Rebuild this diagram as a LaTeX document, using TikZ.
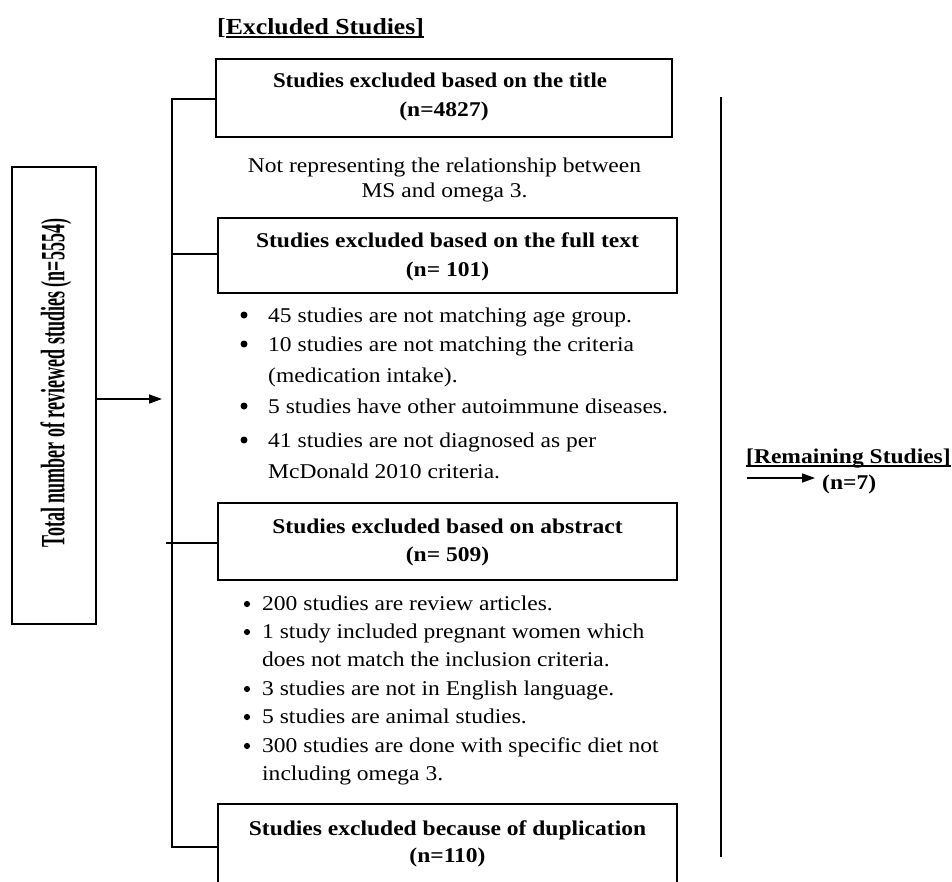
\documentclass[tikz,border=0pt]{standalone}
\usepackage{fontspec}
\setmainfont{Liberation Serif}[FakeStretch=1.12]
\newfontfamily\vfont{Liberation Serif}
\usetikzlibrary{arrows.meta}
\newcommand\myul[1]{\setbox0\hbox{#1}\rlap{\rule[-3.5pt]{\wd0}{1.8pt}}\box0}
\begin{document}
\begin{tikzpicture}[x=1pt,y=-1pt,
  box/.style={draw, line width=2.2pt, inner sep=0pt},
  conn/.style={line width=2.3pt},
  arr/.style={line width=1.4pt, -{Triangle[length=13pt,width=9pt]}},
  hd/.style={anchor=base, inner sep=0pt, font=\bfseries\fontsize{21}{25}\selectfont},
  bd/.style={anchor=base west, inner sep=0pt, font=\fontsize{21}{25}\selectfont},
  bdc/.style={anchor=base, inner sep=0pt, font=\fontsize{21}{25}\selectfont},
  bula/.style={circle, fill, inner sep=0pt, minimum size=7pt},
  bulb/.style={circle, fill, inner sep=0pt, minimum size=6.2pt}]
\clip (0,0) rectangle (952,881);
\fill[white] (0,0) rectangle (952,881);

% header
\node[anchor=base west, inner sep=0pt, font=\bfseries\fontsize{23}{27}\selectfont] (hex) at (217,34) {[\myul{Excluded Studies]}};

% total box
\node[box, minimum width=84pt, minimum height=457pt] (tot) at (54,395.5) {};
\node[rotate=90, inner sep=0pt, font=\vfont\bfseries\fontsize{34}{38}\selectfont] (tott) at (56,383) {\scalebox{0.53}[1]{Total number of reviewed studies (n=5554)}};

% boxes
\node[box, minimum width=456pt, minimum height=78pt] (b1) at (444,98) {};
\node[box, minimum width=459pt, minimum height=75pt] (b2) at (447.5,255.5) {};
\node[box, minimum width=459pt, minimum height=77pt] (b3) at (447.5,541.5) {};
\node[box, minimum width=459pt, minimum height=101pt] (b4) at (447.5,854.5) {};

% box 1 texts
\node[hd] (t1a) at (440,87) {\scalebox{0.97}[1]{Studies excluded based on the title}};
\node[hd] (t1b) at (444,116) {(n=4827)};
\node[bdc] (c1a) at (444.5,172) {Not representing the relationship between};
\node[bdc] (c1b) at (444.5,197) {MS and omega 3.};

% box 2 texts
\node[hd] (t2a) at (447.5,247) {Studies excluded based on the full text};
\node[hd] (t2b) at (447.5,276) {(n= 101)};
\node[bula] (p21) at (244,315) {};
\node[bd] (l21) at (268,322) {45 studies are not matching age group.};
\node[bula] (p22) at (244,344) {};
\node[bd] (l22) at (268,351) {10 studies are not matching the criteria};
\node[bd] (l23) at (268,382) {(medication intake).};
\node[bula] (p24) at (244,406) {};
\node[bd] (l24) at (268,413) {5 studies have other autoimmune diseases.};
\node[bula] (p25) at (244,440) {};
\node[bd] (l25) at (268,447) {41 studies are not diagnosed as per};
\node[bd] (l26) at (268,478) {McDonald 2010 criteria.};

% box 3 texts
\node[hd] (t3a) at (447.5,533) {Studies excluded based on abstract};
\node[hd] (t3b) at (447.5,561) {(n= 509)};
\node[bulb] (p31) at (247,604) {};
\node[bd] (l31) at (262,610) {200 studies are review articles.};
\node[bulb] (p32) at (247,632) {};
\node[bd] (l32) at (262,638) {1 study included pregnant women which};
\node[bd] (l33) at (262,666) {does not match the inclusion criteria.};
\node[bulb] (p34) at (247,689) {};
\node[bd] (l34) at (262,695) {3 studies are not in English language.};
\node[bulb] (p35) at (247,717) {};
\node[bd] (l35) at (262,723) {5 studies are animal studies.};
\node[bulb] (p36) at (247,746) {};
\node[bd] (l36) at (262,752) {300 studies are done with specific diet not};
\node[bd] (l37) at (262,780) {including omega 3.};

% box 4 texts
\node[hd] (t4a) at (447.5,835) {Studies excluded because of duplication};
\node[hd] (t4b) at (447.5,862) {(n=110)};

% left bracket connectors
\coordinate (v1) at (172,99);
\coordinate (v2) at (172,254);
\coordinate (v3) at (166,543);
\coordinate (v4) at (172,847);
\draw[conn] (v1 -| b1.west) -- (v1) -- (v4) -- (v4 -| b4.west);
\draw[conn] (v2) -- (v2 -| b2.west);
\draw[conn] (v3) -- (v3 -| b3.west);

% arrow from total
\coordinate (ah) at (162,399);
\draw[arr] (tot.east |- ah) -- (ah);

% right line
\coordinate (r1) at (721,97);
\coordinate (r2) at (721,857);
\draw[conn] (r1) -- (r2);

% remaining
\node[anchor=base west, inner sep=0pt, font=\bfseries\fontsize{21}{25}\selectfont] (rem) at (746,463) {\myul{[Remaining Studies]}};
\node[anchor=base west, inner sep=0pt, font=\bfseries\fontsize{21}{25}\selectfont] (n7) at (822,489) {(n=7)};
\coordinate (ra1) at (747,478);
\coordinate (ra2) at (815,478);
\draw[arr] (ra1) -- (ra2);
\end{tikzpicture}
\end{document}
